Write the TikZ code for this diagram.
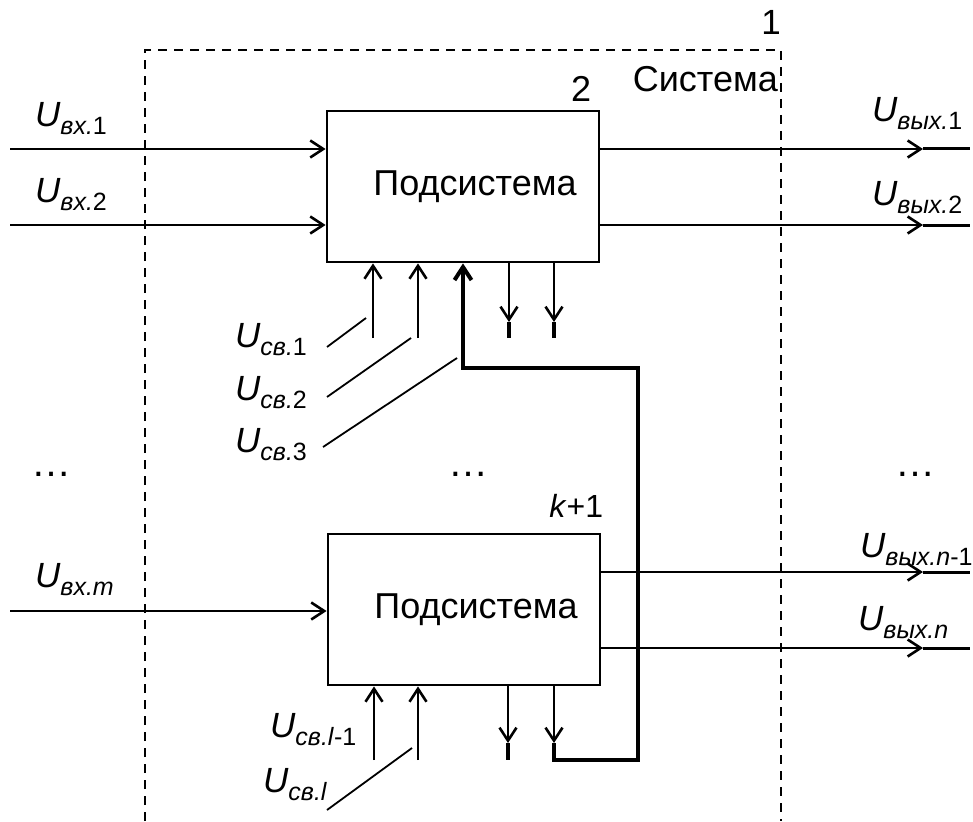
\documentclass[tikz,border=0pt]{standalone}
\usepackage{fontspec}
\setmainfont{Liberation Sans}
\usetikzlibrary{arrows.meta,positioning}

\newcommand{\Usig}[1]{{\fontsize{35}{35}\selectfont\itshape U}\raisebox{-8pt}{\fontsize{25}{25}\selectfont\itshape #1}}

\begin{document}
\begin{tikzpicture}[
                x=1pt, y=-1pt,
                block/.style={draw, line width=2.8pt, minimum width=272pt, minimum height=151pt,
                              inner sep=0pt, font=\fontsize{36}{36}\selectfont},
                sig/.style={line width=2.6pt, -{Straight Barb[length=13pt,width=17pt]}},
                bus/.style={line width=4pt},
                lead/.style={line width=1.8pt},
                lab/.style={inner sep=0pt, anchor=base west},
                num/.style={inner sep=0pt, font=\fontsize{36}{36}\selectfont},
                frame/.style={dash pattern=on 9pt off 7pt, line width=1.6pt}
            ]
                \useasboundingbox (0,0) rectangle (973,821);

                % system border
                \draw[frame] (145,821) -- (145,50) -- (781,50) -- (781,821);
                \node[num, font=\fontsize{35}{35}\selectfont, anchor=base] (sysnum) at (771,35) {1};
                \node[num, anchor=base east] (systxt) at (778,92) {Система};

                % subsystems
                \node[block] (sub1) at (463,186.5) {\hspace*{24pt}Подсистема};
                \node[block] (sub2) at (464,609.5) {\hspace*{24pt}Подсистема};
                \node[num, above left=8pt and 9pt of sub1.north east] (num1) {2};
                \node[num, font=\fontsize{32}{32}\selectfont, above left=15pt and -2pt of sub2.north east] (num2) {\textit{k}+1};

                % inputs
                \coordinate (in1) at (10,149);
                \coordinate (in2) at (10,225);
                \coordinate (inm) at (10,611);
                \draw[sig] (in1) -- (in1 -| sub1.west);
                \draw[sig] (in2) -- (in2 -| sub1.west);
                \draw[sig] (inm) -- (inm -| sub2.west);
                \node[lab] (lin1) at (35,127) {\Usig{вх.\textup{1}}};
                \node[lab] (lin2) at (35,202) {\Usig{вх.\textup{2}}};
                \node[lab] (linm) at (35,587) {\Usig{вх.m}};

                % outputs
                \foreach \n/\y/\b in {1/149/sub1, 2/225/sub1, 3/572/sub2, 4/648/sub2} {
                    \coordinate (t\n) at (923,\y);
                    \coordinate (e\n) at (970,\y);
                    \draw[sig] (t\n -| \b.east) -- (t\n);
                    \draw[line width=3pt] (t\n) -- (e\n);
                }
                \node[lab] (lout1) at (872,122) {\Usig{вых.\textup{1}}};
                \node[lab] (lout2) at (872,205) {\Usig{вых.\textup{2}}};
                \node[lab] (lout3) at (860,557) {\Usig{вых.n\textup{-1}}};
                \node[lab] (lout4) at (858,630) {\Usig{вых.n}};

                % links of the upper subsystem
                \coordinate (f1) at (373,338);
                \coordinate (f2) at (418,338);
                \coordinate (d1) at (509,322);
                \coordinate (d2) at (554,322);
                \draw[sig] (f1) -- (f1 |- sub1.south);
                \draw[sig] (f2) -- (f2 |- sub1.south);
                \draw[sig] (d1 |- sub1.south) -- (d1);
                \draw[sig] (d2 |- sub1.south) -- (d2);
                \draw[bus] (d1) -- ++(0,16);
                \draw[bus] (d2) -- ++(0,16);

                % links of the lower subsystem
                \coordinate (f4) at (374,760);
                \coordinate (f5) at (418,760);
                \coordinate (d3) at (508,743);
                \coordinate (d4) at (554,743);
                \draw[sig] (f4) -- (f4 |- sub2.south);
                \draw[sig] (f5) -- (f5 |- sub2.south);
                \draw[sig] (d3 |- sub2.south) -- (d3);
                \draw[sig] (d4 |- sub2.south) -- (d4);
                \draw[bus] (d3) -- ++(0,17);

                % feedback
                \coordinate (r1) at (638,760);
                \coordinate (fb) at (463,368);
                \draw[bus, -{Straight Barb[length=13pt,width=17pt]}] (d4) |- (r1) |- (fb) -- (fb |- sub1.south);

                % link labels
                \node[lab] (lc1) at (235,347) {\Usig{св.\textup{1}}};
                \node[lab] (lc2) at (235,400) {\Usig{св.\textup{2}}};
                \node[lab] (lc3) at (235,452) {\Usig{св.\textup{3}}};
                \node[lab] (lc4) at (270,737) {\Usig{св.l\textup{-1}}};
                \node[lab] (lc5) at (263,792) {\Usig{св.l}};
                \draw[lead] (327,347) -- (366,318);
                \draw[lead] (327,397) -- (411,338);
                \draw[lead] (323,447) -- (457,358);
                \draw[lead] (327,810) -- (412,748);

                % dots
                \node[num, font=\fontsize{40}{40}\selectfont] (dot1) at (51,474) {…};
                \node[num, font=\fontsize{40}{40}\selectfont] (dot2) at (468,474) {…};
                \node[num, font=\fontsize{40}{40}\selectfont] (dot3) at (915,474) {…};
            \end{tikzpicture}
\end{document}
